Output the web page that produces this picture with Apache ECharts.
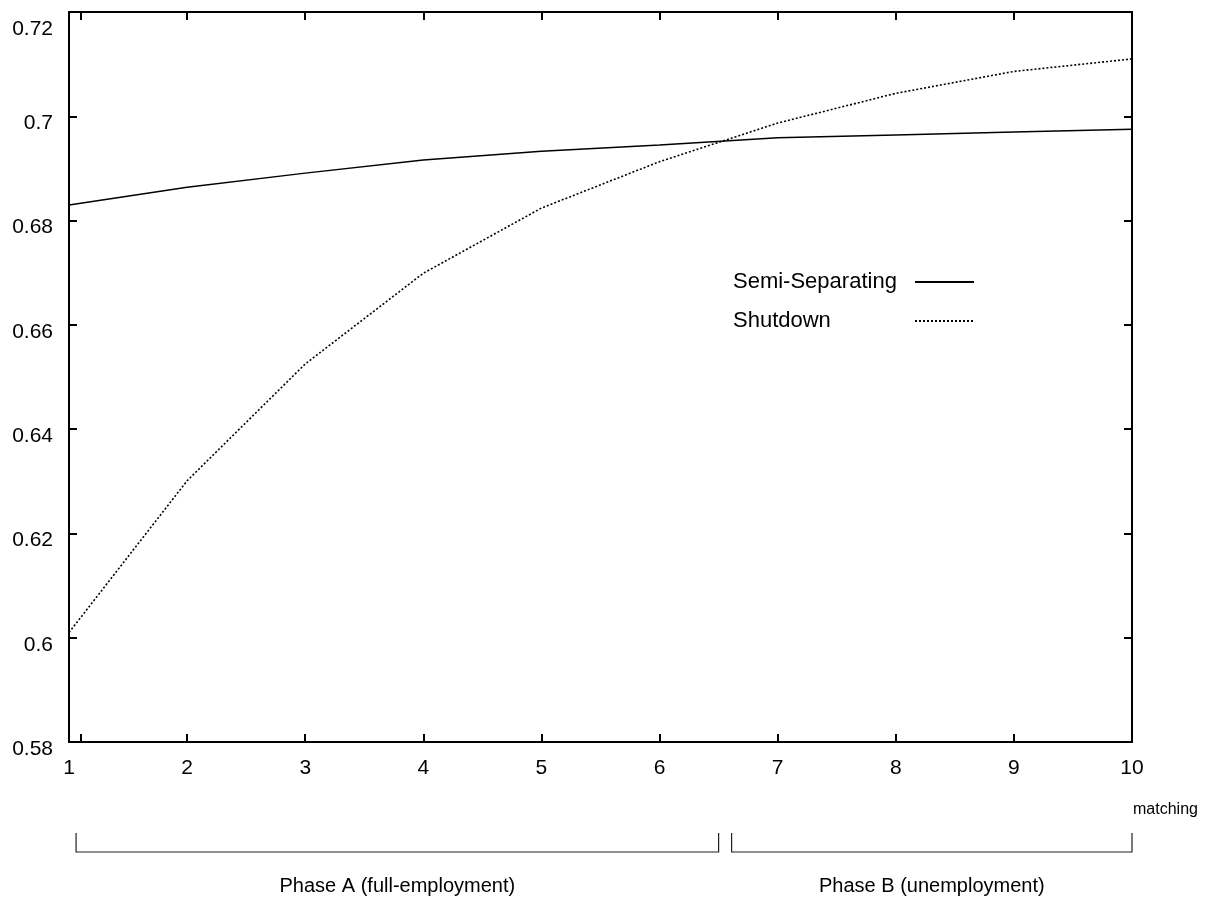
<!DOCTYPE html>
<html>
<head>
<meta charset="utf-8">
<script src="https://cdn.jsdelivr.net/npm/echarts@6/dist/echarts.min.js"></script>
<style>
  html, body { margin: 0; padding: 0; background: #fff; }
  #chart { width: 1220px; height: 914px; }
</style>
</head>
<body>
<div id="chart"></div>
<script>
// matching parameter on the x axis
const matching = [1, 2, 3, 4, 5, 6, 7, 8, 9, 10];
// payoff under the semi-separating equilibrium
const semiSeparating = [0.6830, 0.6864, 0.6891, 0.6916, 0.6933, 0.6945, 0.6959, 0.6964, 0.6970, 0.6975];
// payoff under shutdown
const shutdown = [0.6010, 0.6301, 0.6525, 0.6699, 0.6824, 0.6913, 0.6987, 0.7044, 0.7086, 0.7110];
// tick marks along the matching axis
const xTickMarks = [1.1, 2, 3, 4, 5, 6, 7, 8, 9];
const xTickLabels = [1, 2, 3, 4, 5, 6, 7, 8, 9, 10];
// phases along the matching axis
const phaseNames = ['Phase A (full-employment)', 'Phase B (unemployment)'];
const phaseFrom = [1.06, 6.61];
const phaseTo = [6.5, 10];

const FONT = "'Liberation Sans', Arial, Helvetica, sans-serif";
const chart = echarts.init(document.getElementById('chart'), null, { renderer: 'canvas' });

const pairs = (ys) => matching.map((x, i) => [x, ys[i]]);

const axisLine = { show: true, onZero: false, lineStyle: { color: '#000', width: 2 } };
const tickStyle = { color: '#000', width: 2 };

chart.setOption({
  animation: false,
  backgroundColor: '#fff',
  grid: { left: 69, right: 88, top: 12, bottom: 172, containLabel: false },
  legend: {
    orient: 'vertical',
    left: 733,
    top: 271,
    padding: 0,
    align: 'right',
    itemWidth: 59,
    itemHeight: 22,
    itemGap: 17,
    itemStyle: { opacity: 0 },
    data: ['Semi-Separating', 'Shutdown'],
    formatter: (name) => '{t|' + name + '}',
    textStyle: {
      rich: { t: { width: 177, align: 'left', fontSize: 22, fontFamily: FONT, color: '#000', lineHeight: 22 } }
    }
  },
  xAxis: [
    {
      type: 'value', min: 1, max: 10, interval: 1, position: 'bottom',
      name: 'matching', nameLocation: 'end', nameGap: 1, nameMoveOverlap: false,
      nameTextStyle: { fontFamily: FONT, fontSize: 16, color: '#000', align: 'left', verticalAlign: 'top', padding: [60, 0, 0, 0] },
      axisLine: axisLine,
      axisTick: { show: true, inside: true, length: 8, lineStyle: tickStyle, customValues: xTickMarks },
      axisLabel: {
        fontFamily: FONT, fontSize: 21, color: '#000', margin: 16,
        customValues: xTickLabels,
        showMinLabel: true, showMaxLabel: true
      },
      splitLine: { show: false }
    },
    {
      type: 'value', min: 1, max: 10, interval: 1, position: 'top',
      axisLine: axisLine,
      axisTick: { show: true, inside: true, length: 8, lineStyle: tickStyle, customValues: xTickMarks },
      axisLabel: { show: false },
      splitLine: { show: false }
    }
  ],
  yAxis: [
    {
      type: 'value', min: 0.58, max: 0.72, interval: 0.02, position: 'left',
      axisLine: axisLine,
      axisTick: { show: true, inside: true, length: 8, lineStyle: tickStyle },
      axisLabel: {
        fontFamily: FONT, fontSize: 21, color: '#000', margin: 16,
        formatter: (v) => {
          const s = String(Math.round(v * 100) / 100);
          return v > 0.715 ? '{hi|' + s + '}' : '{n|' + s + '}';
        },
        rich: {
          n: { fontFamily: FONT, fontSize: 21, color: '#000', padding: [14, 0, 0, 0] },
          hi: { fontFamily: FONT, fontSize: 21, color: '#000', padding: [34, 0, 0, 0] }
        }
      },
      splitLine: { show: false }
    },
    {
      type: 'value', min: 0.58, max: 0.72, interval: 0.02, position: 'right',
      axisLine: axisLine,
      axisTick: { show: true, inside: true, length: 8, lineStyle: tickStyle },
      axisLabel: { show: false },
      splitLine: { show: false }
    }
  ],
  series: [
    {
      name: 'Semi-Separating', type: 'line', symbol: 'none', smooth: false,
      data: pairs(semiSeparating),
      lineStyle: { color: '#000', width: 1.5, type: 'solid' },
      itemStyle: { color: '#000' }
    },
    {
      name: 'Shutdown', type: 'line', symbol: 'none', smooth: false,
      data: pairs(shutdown),
      lineStyle: { color: '#000', width: 1.6, type: [2, 2] },
      itemStyle: { color: '#000' }
    }
  ]
});

// Brackets and captions marking the two phases beneath the axis
function drawPhases() {
  const baseY = chart.convertToPixel({ yAxisIndex: 0 }, 0.58);
  const topY = baseY + 91, botY = baseY + 110, textY = baseY + 144;
  const elements = [];
  phaseNames.forEach((name, i) => {
    const x0 = chart.convertToPixel({ xAxisIndex: 0 }, phaseFrom[i]);
    const x1 = chart.convertToPixel({ xAxisIndex: 0 }, phaseTo[i]);
    elements.push({
      type: 'polyline',
      shape: { points: [[x0, topY], [x0, botY], [x1, botY], [x1, topY]] },
      style: { stroke: '#222', lineWidth: 1.2, fill: null }
    });
    elements.push({
      type: 'text',
      x: (x0 + x1) / 2, y: textY,
      style: { text: name, fontFamily: FONT, fontSize: 20, fill: '#000', align: 'center', verticalAlign: 'middle' }
    });
  });
  chart.setOption({ graphic: elements });
}
drawPhases();
</script>
</body>
</html>
